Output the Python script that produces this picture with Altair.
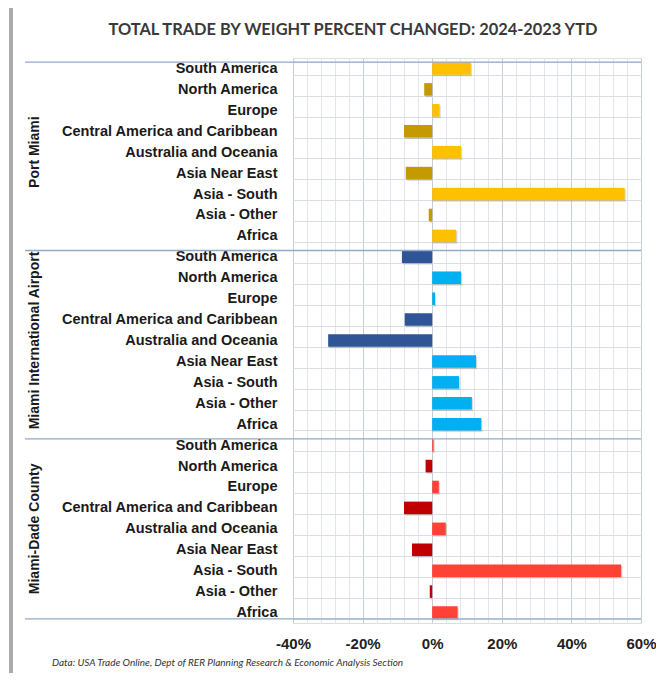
import altair as alt
import pandas as pd

TITLE = "TOTAL TRADE BY WEIGHT PERCENT CHANGED: 2024-2023 YTD"
FOOTNOTE = "Data: USA Trade Online, Dept of RER Planning Research & Economic Analysis Section"

groups = ["Port Miami", "Miami International Airport", "Miami-Dade County"]
regions = [
    "South America", "North America", "Europe", "Central America and Caribbean",
    "Australia and Oceania", "Asia Near East", "Asia - South", "Asia - Other", "Africa",
]
port_miami = [11.1, -2.3, 2.1, -8.1, 8.3, -7.6, 55.3, -1.0, 6.9]
airport = [-8.7, 8.3, 0.8, -7.9, -29.9, 12.6, 7.7, 11.4, 14.1]
county = [0.4, -1.9, 1.9, -8.1, 3.9, -5.8, 54.3, -0.7, 7.3]
x_ticks = list(range(-40, 61, 4))

series = {groups[0]: port_miami, groups[1]: airport, groups[2]: county}
short = {groups[0]: "pm", groups[1]: "mia", groups[2]: "md"}

rows = []
for g in groups:
    for r, v in zip(regions, series[g]):
        rows.append({"group": g, "region": r, "row": g + "|" + r, "value": v,
                     "key": short[g] + ("_pos" if v >= 0 else "_neg")})
df = pd.DataFrame(rows)
row_order = list(df["row"])

color_domain = ["pm_pos", "pm_neg", "mia_pos", "mia_neg", "md_pos", "md_neg"]
color_range = ["#FFC000", "#C49A00", "#00B0F0", "#2F5597", "#FF4136", "#C00000"]

W, H = 348, 565
FONT = "Liberation Sans"

yscale = alt.Scale(domain=row_order, paddingInner=0.40, paddingOuter=0.20)
xscale = alt.Scale(domain=[-40, 60], nice=False, zero=False)

grid_color = {"condition": {"test": "abs(datum.value) % 20 === 0", "value": "#C6CED8"}, "value": "#E2E6EC"}

x_axis = alt.Axis(values=x_ticks, title=None, grid=True, gridColor=grid_color,
                  ticks=False, domain=False, labelOverlap=False, labelFlush=False,
                  labelExpr="abs(datum.value) % 20 === 0 ? datum.value + '%' : ''",
                  labelFont=FONT, labelFontSize=15, labelFontWeight="bold",
                  labelColor="#222222", labelPadding=13)
y_axis = alt.Axis(title=None, grid=True, tickBand="extent", gridColor="#DADFE6",
                  ticks=False, domain=False, labelLimit=400, labelOverlap=False,
                  labelExpr="split(datum.label, '|')[1]",
                  labelFont=FONT, labelFontSize=14.5, labelFontWeight="bold",
                  labelColor="#1A1A1A", labelPadding=16)


def Y(**kw):
    return alt.Y("row:N", scale=yscale, sort=row_order, axis=y_axis, **kw)


def X():
    return alt.X("value:Q", scale=xscale, axis=x_axis)


shadow = alt.Chart(df).mark_bar(color="#000000", opacity=0.15, xOffset=1.2, yOffset=1.5).encode(
    x=X(), x2=alt.datum(0), y=Y(),
)

bars = alt.Chart(df).mark_bar().encode(
    x=X(), x2=alt.datum(0), y=Y(),
    color=alt.Color("key:N", scale=alt.Scale(domain=color_domain, range=color_range), legend=None),
)

tops = pd.DataFrame({"row": [g + "|" + regions[0] for g in groups]})
bottoms = pd.DataFrame({"row": [groups[-1] + "|" + regions[-1]]})
sep_top = alt.Chart(tops).mark_rule(color="#8FAACB", strokeWidth=1.3).encode(
    y=Y(bandPosition=0), x=alt.value(-268), x2=alt.value(W),
)
sep_bot = alt.Chart(bottoms).mark_rule(color="#8FAACB", strokeWidth=1.3).encode(
    y=Y(bandPosition=1), x=alt.value(-268), x2=alt.value(W),
)

glabels = pd.DataFrame({"group": groups, "row": [g + "|" + regions[4] for g in groups]})
group_text = alt.Chart(glabels).mark_text(
    angle=270, font=FONT, fontSize=14, fontWeight="bold", color="#1A1A1A", align="center", baseline="middle"
).encode(y=Y(), x=alt.value(-258), text="group:N")

title_df = pd.DataFrame({"t": [TITLE]})
title = alt.Chart(title_df).mark_text(
    font="Lato", fontSize=16.4, fontWeight="bold", color="#3A3A3A", align="center", baseline="middle"
).encode(x=alt.value(60), y=alt.value(-28), text="t:N")

foot_df = pd.DataFrame({"t": [FOOTNOTE]})
foot = alt.Chart(foot_df).mark_text(
    font="Lato", fontSize=10, fontStyle="italic", color="#333333", align="left", baseline="middle"
).encode(x=alt.value(52 - 293), y=alt.value(663 - 58), text="t:N")

frame_df = pd.DataFrame({"k": [0]})
frame = alt.Chart(frame_df).mark_rule(color="#ABABAB", strokeWidth=4).encode(
    x=alt.value(-282), y=alt.value(-52), y2=alt.value(H + 60),
)

chart = alt.layer(shadow, bars, sep_top, sep_bot, group_text, title, foot, frame).properties(
    width=W, height=H,
    autosize=alt.AutoSizeParams(type="none"),
    padding={"left": 285, "top": 50, "right": 15, "bottom": 50},
).configure_view(stroke=None).configure(background="#FFFFFF")

chart.save("out.html", embed_options={"renderer": "svg", "actions": False})
